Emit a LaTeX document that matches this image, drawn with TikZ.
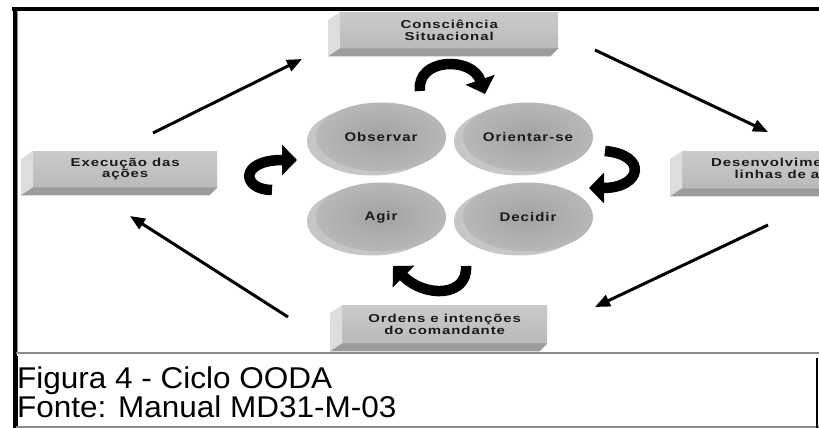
\documentclass[tikz,border=0pt]{standalone}
\usepackage{fontspec}
\setmainfont{Liberation Sans}
\newfontfamily\boxfont[FakeStretch=1.3,LetterSpace=8]{Liberation Sans}
\newfontfamily\diskfont[FakeStretch=1.2,LetterSpace=8]{Liberation Sans}
\newfontfamily\capfont[FakeStretch=1.05]{Liberation Sans}
\usetikzlibrary{arrows.meta,shapes.geometric}
\definecolor{boxtop}{HTML}{CACACA}
\definecolor{boxbot}{HTML}{BABABA}
\definecolor{boxleft}{HTML}{DDDDDD}
\definecolor{boxbottom}{HTML}{9C9C9C}
\definecolor{diskin}{HTML}{A2A2A2}
\definecolor{diskout}{HTML}{B8B8B8}
\definecolor{diskback}{HTML}{C6C6C6}
\definecolor{ink}{HTML}{1A1A1A}
\definecolor{rule}{HTML}{8A8A8A}
\tikzset{
  boxface/.style={rectangle, inner sep=0pt, top color=boxtop, bottom color=boxbot,
    draw=none, align=center, text=ink, font=\boxfont\bfseries\fontsize{11.5}{11.5}\selectfont},
  boxleftface/.style={fill=boxleft},
  boxbottomface/.style={fill=boxbottom},
  diskface/.style={ellipse, inner sep=0pt, minimum width=130pt, minimum height=69pt,
    inner color=diskin, outer color=diskout, text=ink,
    font=\diskfont\bfseries\fontsize{12.5}{13}\selectfont},
  diskshadow/.style={fill=diskback},
  loopy/.style={line width=10.5pt, -{Triangle[length=15pt,width=30pt]}},
  flow/.style={line width=3pt, -{Triangle[length=15pt,width=12pt]}},
  caption/.style={anchor=base west, inner sep=0pt, font=\capfont\fontsize{30}{36}\selectfont}
}
\newcommand\ooBox[6]{%
  \node[boxface, minimum width={#4-#2}, minimum height={#5-#3}, anchor=north west] (#1) at (#2,#3) {#6};
  \fill[boxleftface] (#1.north west) -- (#1.south west) -- ([shift={(-12,8)}]#1.south west) -- ([shift={(-12,8)}]#1.north west) -- cycle;
  \fill[boxbottomface] (#1.south west) -- (#1.south east) -- ([shift={(-8,8)}]#1.south east) -- ([shift={(-12,8)}]#1.south west) -- cycle;
}
\newcommand\ooDisk[4]{%
  \fill[diskshadow] (#2-9,#3+4) ellipse[x radius=65, y radius=34.5];
  \node[diskface] (#1) at (#2,#3) {#4};
}
\begin{document}
\begin{tikzpicture}[x=1pt,y=-1pt]
\clip (0,0) rectangle (819,428);
\fill[white] (0,0) rectangle (819,428);
% frame
\draw[line width=4pt] (12,9.5) -- (819,9.5);
\draw[line width=4pt] (14.5,7.5) -- (14.5,428);
\draw[line width=5pt] (15.5,356) -- (15.5,428);
\draw[rule, line width=0.8pt] (17.5,11) -- (17.5,352);
\draw[rule, line width=1.2pt] (16,353) -- (819,353);
\draw[rule, line width=1.2pt] (16,427) -- (819,427);
\draw[line width=1.5pt] (817,358) -- (817,428);
% boxes
\ooBox{cs}{340}{12}{558}{48}{Consciência\\Situacional}
\ooBox{ex}{33}{151}{217}{187}{Execução das\\ações}
\ooBox{dv}{682}{151}{900}{188}{Desenvolvimento de\\linhas de ação}
\ooBox{oi}{342}{305}{547}{343}{Ordens e intenções\\do comandante}
% disks
\ooDisk{obs}{381}{137}{Observar}
\ooDisk{ori}{528}{137}{Orientar-se}
\ooDisk{agi}{381}{217}{Agir}
\ooDisk{dec}{528}{217}{Decidir}
% straight arrows
\coordinate (a1s) at (153,133); \coordinate (a1e) at (302,59);
\coordinate (a2s) at (595,50);  \coordinate (a2e) at (768,132);
\coordinate (a3s) at (768,225); \coordinate (a3e) at (595,307);
\coordinate (a4s) at (288,317); \coordinate (a4e) at (130,216);
\draw[flow] (a1s) -- (a1e);
\draw[flow] (a2s) -- (a2e);
\draw[flow] (a3s) -- (a3e);
\draw[flow] (a4s) -- (a4e);
% curved arrows
\draw[loopy] (420,91) .. controls (416,58) and (472,56) .. (485,94);
\draw[loopy] (605,151) .. controls (648,155) and (642,188) .. (589,188);
\draw[loopy] (466,266) .. controls (468,297) and (425,298) .. (393,266);
\draw[loopy] (272,190) .. controls (242,190) and (238,160) .. (297,160);
% caption
\node[caption] (cap1) at (17,388) {Figura 4 - Ciclo OODA};
\node[caption] (cap2) at (17,417) {Fonte: Manual MD31-M-03};
\end{tikzpicture}
\end{document}
